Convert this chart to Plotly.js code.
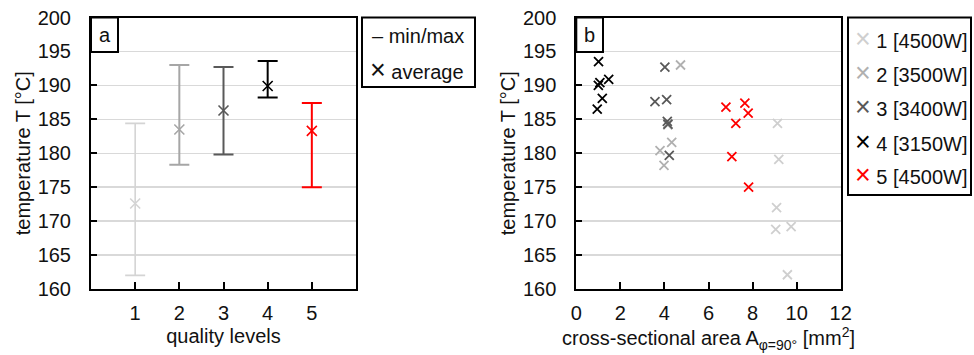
<!DOCTYPE html>
<html>
<head>
<meta charset="utf-8">
<script src="https://cdn.plot.ly/plotly-3.0.1.min.js"></script>
<style>html,body{margin:0;padding:0;background:#fff;}#chart{width:974px;height:355px;}</style>
</head>
<body>
<div id="chart"></div>
<script>
// ---- Panel a data: temperature per quality level ----
const levels = [1, 2, 3, 4, 5];
const tMin = [162.0, 178.3, 179.8, 188.2, 175.0];
const tMax = [184.4, 193.0, 192.7, 193.6, 187.4];
const tAvg = [172.6, 183.5, 186.3, 189.9, 183.3];
const levelColors = ['#d4d4d4', '#a6a6a6', '#595959', '#000000', '#ff0000'];

// ---- Panel b data: temperature vs cross-sectional area ----
const seriesNames = ['1 [4500W]', '2 [3500W]', '3 [3400W]', '4 [3150W]', '5 [4500W]'];
const s1x = [9.13, 9.19, 9.09, 9.05, 9.75, 9.58];
const s1y = [184.4, 179.1, 172.0, 168.8, 169.2, 162.1];
const s2x = [4.73, 4.33, 3.80, 3.98, 4.15];
const s2y = [193.0, 181.6, 180.4, 178.2, 184.2];
const s3x = [4.02, 3.57, 4.10, 4.13, 4.16, 4.22];
const s3y = [192.7, 187.6, 187.9, 184.7, 184.3, 179.7];
const s4x = [1.01, 1.00, 1.07, 1.47, 1.18, 0.95];
const s4y = [193.5, 190.0, 190.4, 190.9, 188.1, 186.5];
const s5x = [6.79, 7.65, 7.80, 7.24, 7.06, 7.82];
const s5y = [186.8, 187.4, 185.9, 184.4, 179.5, 175.0];
const seriesColors = ['#cfcfcf', '#b0b0b0', '#595959', '#000000', '#ff0000'];

const yTicks = [160, 165, 170, 175, 180, 185, 190, 195, 200];
const xTicksA = [1, 2, 3, 4, 5];
const xTicksB = [0, 2, 4, 6, 8, 10, 12];

const W = 974, H = 355;
const px = v => v / W;
const py = v => 1 - v / H;
const FONT = 'Liberation Sans, Arial, Helvetica, sans-serif';
const TXT = '#111';

const traces = [];
levels.forEach((lv, i) => {
  traces.push({
    type: 'scatter', mode: 'markers', xaxis: 'x', yaxis: 'y',
    x: [lv], y: [tAvg[i]], showlegend: false, hoverinfo: 'x+y',
    marker: {symbol: 'x-thin-open', size: 10, color: levelColors[i], line: {width: 1.6, color: levelColors[i]}},
    error_y: {type: 'data', symmetric: false, array: [tMax[i] - tAvg[i]], arrayminus: [tAvg[i] - tMin[i]],
              color: levelColors[i], thickness: i === 0 ? 1.6 : 2, width: 10}
  });
});
const sx = [s1x, s2x, s3x, s4x, s5x];
const sy = [s1y, s2y, s3y, s4y, s5y];
seriesNames.forEach((n, i) => {
  traces.push({
    type: 'scatter', mode: 'markers', xaxis: 'x2', yaxis: 'y2', name: n,
    x: sx[i], y: sy[i], showlegend: false,
    marker: {symbol: 'x-thin-open', size: 9, color: seriesColors[i], line: {width: 1.8, color: seriesColors[i]}}
  });
});

const yaxisBase = {
  range: [160, 200], tickvals: yTicks, ticks: 'inside', ticklen: 6, tickwidth: 2, tickcolor: '#000',
  showline: true, linewidth: 2, linecolor: '#000', mirror: true,
  showgrid: true, gridcolor: '#d9d9d9', gridwidth: 1.5, zeroline: false,
  tickfont: {family: FONT, size: 20, color: TXT}, ticklabelstandoff: 14,
  domain: [py(289), py(17.5)], automargin: false,
  title: {text: 'temperature T [°C]', font: {family: FONT, size: 20, color: TXT}, standoff: 2}
};
const xaxisBase = {
  ticks: 'inside', ticklen: 7, tickwidth: 2, tickcolor: '#000',
  showline: true, linewidth: 2, linecolor: '#000', mirror: true,
  showgrid: false, zeroline: false, automargin: false,
  tickfont: {family: FONT, size: 20, color: TXT}, ticklabelstandoff: 5
};

const layout = {
  width: W, height: H, margin: {l: 0, r: 0, t: 0, b: 0},
  paper_bgcolor: '#fff', plot_bgcolor: '#fff', showlegend: false,
  font: {family: FONT, size: 20, color: TXT},
  xaxis: Object.assign({}, xaxisBase, {anchor: 'y', domain: [px(91), px(356)], range: [0, 6], tickvals: xTicksA,
    title: {text: 'quality levels', font: {family: FONT, size: 20, color: TXT}, standoff: 6}}),
  yaxis: Object.assign({}, yaxisBase, {anchor: 'x'}),
  xaxis2: Object.assign({}, xaxisBase, {anchor: 'y2', domain: [px(576.3), px(840.7)], range: [0, 12], tickvals: xTicksB,
    title: {text: 'cross-sectional area A<sub>φ=90°</sub> [mm<sup>2</sup>]', font: {family: FONT, size: 20, color: TXT}, standoff: 6}}),
  yaxis2: Object.assign({}, yaxisBase, {anchor: 'x2'}),
  shapes: [],
  annotations: []
};

// panel label boxes
[['a', 91, 118], ['b', 576.3, 603]].forEach(([t, x0, x1]) => {
  layout.shapes.push({type: 'rect', xref: 'paper', yref: 'paper', x0: px(x0), x1: px(x1), y0: py(52), y1: py(17.5),
    line: {color: '#000', width: 2}, fillcolor: '#fff', layer: 'above'});
  layout.annotations.push({xref: 'paper', yref: 'paper', x: px((x0 + x1) / 2), y: py(35), text: t, showarrow: false,
    xanchor: 'center', yanchor: 'middle', font: {family: FONT, size: 20, color: TXT}});
});

const X = '<span style="font-size:27px">×</span>';

// legend a
layout.shapes.push({type: 'rect', xref: 'paper', yref: 'paper', x0: px(362), x1: px(475), y0: py(87), y1: py(17.5),
  line: {color: '#000', width: 2}, fillcolor: '#fff'});
layout.annotations.push({xref: 'paper', yref: 'paper', x: px(370), y: py(36), text: '– min/max', showarrow: false,
  xanchor: 'left', yanchor: 'middle', font: {family: FONT, size: 20, color: TXT}});
layout.annotations.push({xref: 'paper', yref: 'paper', x: px(368), y: py(70.5), text: X + ' average', showarrow: false,
  xanchor: 'left', yanchor: 'middle', font: {family: FONT, size: 20, color: TXT}});

// legend b
layout.shapes.push({type: 'rect', xref: 'paper', yref: 'paper', x0: px(848), x1: px(971), y0: py(195), y1: py(17.5),
  line: {color: '#000', width: 2}, fillcolor: '#fff'});
const legYs = [39, 73, 107, 142, 175];
seriesNames.forEach((n, i) => {
  layout.annotations.push({xref: 'paper', yref: 'paper', x: px(853), y: py(legYs[i]),
    text: '<span style="font-size:27px;color:' + seriesColors[i] + '">×</span> ' + n, showarrow: false,
    xanchor: 'left', yanchor: 'middle', font: {family: FONT, size: 20, color: TXT}});
});

Plotly.newPlot('chart', traces, layout, {staticPlot: true, displayModeBar: false});
</script>
</body>
</html>
